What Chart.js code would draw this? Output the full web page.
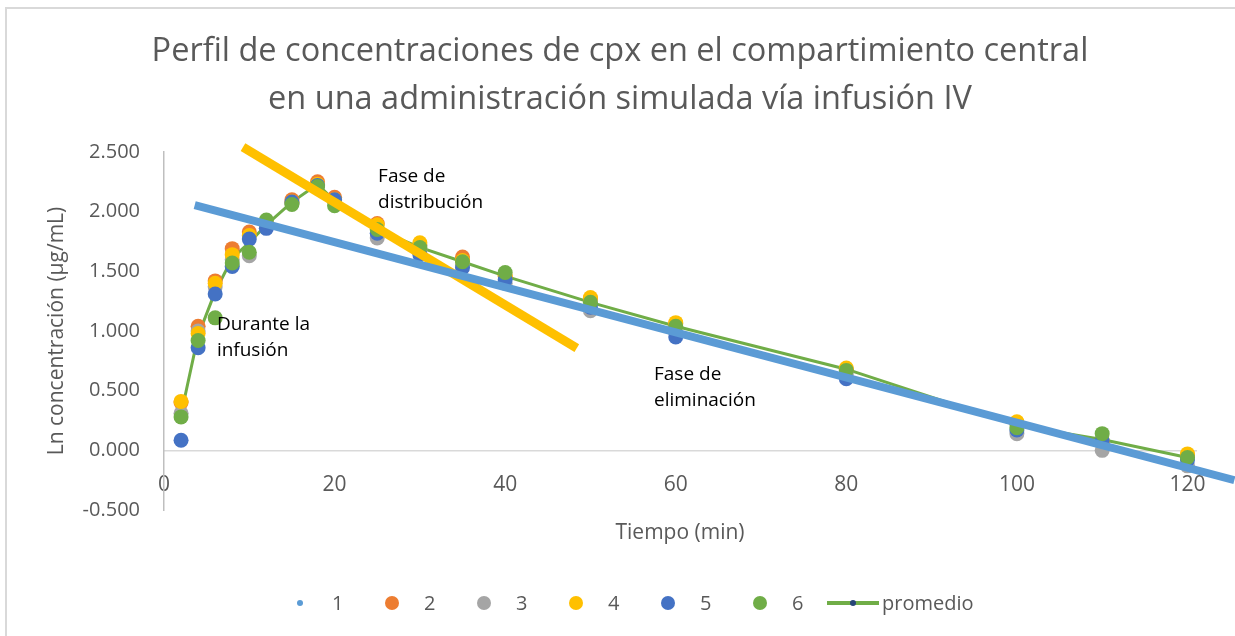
<!DOCTYPE html>
<html lang="es">
<head>
	<meta charset="UTF-8">
	<title>perfil cpx</title>
	<script src="https://cdn.jsdelivr.net/npm/chart.js@4/dist/chart.umd.min.js"></script>
	<style>
		html,body{margin:0;padding:0;background:#fff;overflow:hidden;}
		#wrap{position:relative;width:1235px;height:636px;}
		#frame{position:absolute;left:5px;top:7px;width:1400px;height:800px;border:2px solid #d9d9d9;box-sizing:border-box;}
		#chart{position:absolute;left:0;top:0;}
		#legend{position:absolute;left:0;top:591px;width:1235px;height:24px;font-family:"Open Sans",sans-serif;font-size:20px;color:#595959;}
		#legend .it{position:absolute;top:0;height:24px;line-height:24px;white-space:nowrap;}
		#legend .dot{position:absolute;border-radius:50%;}
	</style>
</head>
<body>
	<div id="wrap">
		<div id="frame"></div>
		<canvas id="chart" width="1235" height="636"></canvas>
		<div id="legend"></div>
	</div>

	<script>

		// tiempos de muestreo (min)
		var tiempos=[2,4,6,8,10,12,15,18,20,25,30,35,40,50,60,80,100,110,120];

		// Ln concentracion de cada sujeto
		var serie1=[0.30,0.96,1.34,1.61,1.76,1.89,2.08,2.23,2.09,1.85,1.69,1.57,1.45,1.23,1.02,0.66,0.20,0.07,-0.07];
		var serie2=[0.40,1.04,1.42,1.69,1.83,1.90,2.10,2.25,2.12,1.90,1.72,1.62,1.46,1.27,1.06,0.68,0.23,0.06,-0.04];
		var serie3=[0.31,1.00,1.37,1.60,1.63,1.88,2.07,2.22,2.09,1.78,1.68,1.55,1.40,1.17,0.99,0.64,0.14,0.00,-0.13];
		var serie4=[0.41,0.98,1.40,1.64,1.80,1.89,2.08,2.23,2.10,1.89,1.74,1.59,1.46,1.28,1.07,0.69,0.24,0.08,-0.03];
		var serie5=[0.085,0.86,1.31,1.54,1.77,1.86,2.08,2.22,2.10,1.82,1.64,1.53,1.43,1.20,0.95,0.60,0.17,0.08,-0.08];
		var serie6=[0.28,0.92,1.11,1.57,1.66,1.93,2.06,2.21,2.05,1.85,1.70,1.58,1.49,1.24,1.04,0.67,0.19,0.14,-0.06];
		var promedio=[0.30,0.96,1.33,1.61,1.74,1.89,2.08,2.23,2.09,1.85,1.70,1.58,1.46,1.24,1.04,0.68,0.21,0.09,-0.06];

		// lineas de tendencia (extremos)
		var tendEliminacionX=[3.6,125.5];
		var tendEliminacionY=[2.055,-0.25];
		var tendDistribucionX=[9.26,48.4];
		var tendDistribucionY=[2.54,0.856];

		var nombres=["1","2","3","4","5","6"];
		var colores=["#5b9bd5","#ed7d31","#a5a5a5","#ffc000","#4472c4","#70ad47"];
		var ticksX=[0,20,40,60,80,100,120];
		var ticksY=[-0.5,0,0.5,1,1.5,2,2.5];

		function pares(xs,ys){
			return xs.map(function(x,i){ return {x:x,y:ys[i]}; });
		}

		var series=[serie1,serie2,serie3,serie4,serie5,serie6];
		var datasets=[];

		// en chart.js el "order" menor queda encima
		datasets.push({
			label:"promedio",
			data:pares(tiempos,promedio),
			showLine:true,
			borderColor:"#70ad47",
			borderWidth:3,
			pointRadius:2.5,
			pointBackgroundColor:"#264478",
			pointBorderWidth:0,
			order:10
		});

		series.forEach(function(s,i){
			datasets.push({
				label:nombres[i],
				data:pares(tiempos,s),
				showLine:false,
				backgroundColor:colores[i],
				borderColor:colores[i],
				pointRadius:i==0?3:7.5,
				pointBorderWidth:0,
				order:8-i
			});
		});

		datasets.push({
			label:"tendencia eliminacion",
			data:pares(tendEliminacionX,tendEliminacionY),
			showLine:true,
			borderColor:"#5b9bd5",
			borderWidth:8,
			borderCapStyle:"butt",
			pointRadius:0,
			clip:false,
			order:0
		});
		datasets.push({
			label:"tendencia distribucion",
			data:pares(tendDistribucionX,tendDistribucionY),
			showLine:true,
			borderColor:"#ffc000",
			borderWidth:9,
			borderCapStyle:"butt",
			pointRadius:0,
			clip:false,
			order:1
		});

		var notas=[
			{x:6.2,y:1.05,t:["Durante la","infusión"]},
			{x:25.1,y:2.296,t:["Fase de","distribución"]},
			{x:57.45,y:0.637,t:["Fase de","eliminación"]}
		];

		var notasPlugin={
			id:"notas",
			afterDatasetsDraw:function(chart){
				var ctx=chart.ctx,xs=chart.scales.x,ys=chart.scales.y;
				ctx.save();
				ctx.font="19px 'Open Sans'";
				ctx.fillStyle="#000";
				ctx.textAlign="left";
				ctx.textBaseline="middle";
				notas.forEach(function(n){
					var px=xs.getPixelForValue(n.x),py=ys.getPixelForValue(n.y);
					n.t.forEach(function(linea,k){
						ctx.fillText(linea,px,py+k*26);
					});
				});
				ctx.restore();
			}
		};

		var gris="#595959";

		new Chart(document.getElementById("chart"),{
			type:"scatter",
			data:{datasets:datasets},
			plugins:[notasPlugin],
			options:{
				responsive:false,
				animation:false,
				devicePixelRatio:1,
				layout:{padding:{left:5,right:0,top:0,bottom:126}},
				plugins:{
					legend:{display:false},
					tooltip:{enabled:false},
					title:{
						display:true,
						text:["Perfil de concentraciones de cpx en el compartimiento central","en una administración simulada vía infusión IV"],
						color:gris,
						font:{family:"'Open Sans'",size:32.5,weight:"normal",lineHeight:48/32.5},
						padding:{top:28,bottom:28}
					}
				},
				scales:{
					x:{
						type:"linear",
						position:{y:0},
						min:0,
						max:121,
						afterBuildTicks:function(s){
							s.ticks=ticksX.map(function(v){ return {value:v}; });
						},
						afterFit:function(s){ s.height=100; },
						ticks:{color:gris,font:{family:"'Open Sans'",size:21},padding:22,autoSkip:false,maxRotation:0},
						grid:{display:false,drawTicks:false},
						border:{display:true,color:"#d9d9d9",width:1.5},
						title:{display:true,text:"Tiempo (min)",color:gris,font:{family:"'Open Sans'",size:21},padding:{top:0,bottom:5}}
					},
					y:{
						type:"linear",
						position:"left",
						min:-0.5,
						max:2.5,
						afterBuildTicks:function(s){
							s.ticks=ticksY.map(function(v){ return {value:v}; });
						},
						afterFit:function(s){ s.width=159; },
						ticks:{color:gris,font:{family:"'Open Sans'",size:20},padding:24,
							callback:function(v){ return Number(v).toFixed(3); }},
						grid:{display:false,drawTicks:false},
						border:{display:true,color:"#bfbfbf",width:1.5},
						title:{display:true,text:"Ln concentración (µg/mL)",color:gris,font:{family:"'Open Sans'",size:21},padding:{top:39,bottom:0}}
					},
					// eje vacio a la derecha, solo reserva el margen
					yDer:{
						type:"linear",
						position:"right",
						display:true,
						min:-0.5,
						max:2.5,
						afterFit:function(s){ s.width=39; },
						ticks:{display:false},
						grid:{display:false,drawTicks:false},
						border:{display:false}
					}
				}
			}
		});

		// leyenda
		var leyenda=document.getElementById("legend");
		nombres.forEach(function(n,i){
			var cx=300+i*92;
			var r=i==0?3:7;
			var dot=document.createElement("span");
			dot.className="dot";
			dot.style.left=(cx-r)+"px";
			dot.style.top=(12-r)+"px";
			dot.style.width=(2*r)+"px";
			dot.style.height=(2*r)+"px";
			dot.style.background=colores[i];
			leyenda.appendChild(dot);
			var it=document.createElement("span");
			it.className="it";
			it.style.left=(cx+32)+"px";
			it.textContent=n;
			leyenda.appendChild(it);
		});
		var linea=document.createElement("span");
		linea.style.cssText="position:absolute;left:827px;top:10px;width:52px;height:4px;background:#70ad47;";
		leyenda.appendChild(linea);
		var marca=document.createElement("span");
		marca.className="dot";
		marca.style.cssText="left:850px;top:9px;width:6px;height:6px;background:#264478;";
		leyenda.appendChild(marca);
		var txt=document.createElement("span");
		txt.className="it";
		txt.style.left="882px";
		txt.textContent="promedio";
		leyenda.appendChild(txt);

	</script>

</body>
</html>
